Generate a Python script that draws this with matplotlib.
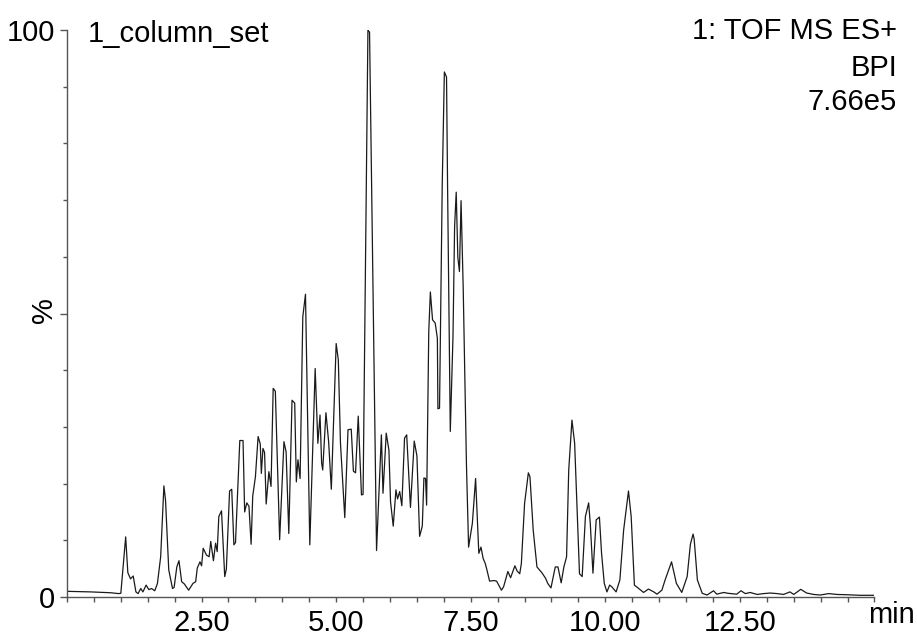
"""
Base peak intensity chromatogram (TOF MS ES+, BPI) for 1_column_set.
"""

import matplotlib

matplotlib.use("Agg")

import matplotlib.pyplot as plt
from matplotlib.ticker import FixedLocator, MultipleLocator, NullFormatter

# ---------------------------------------------------------------------------
# Data: retention time (min) vs. relative intensity (%)
# ---------------------------------------------------------------------------

# 0 - 2.5 min
time_early = [0.00, 0.44, 0.81, 0.96, 1.00, 1.09, 1.13, 1.18, 1.23, 1.28,
              1.32, 1.37, 1.41, 1.47, 1.52, 1.57, 1.63, 1.68, 1.74, 1.80,
              1.83, 1.89, 1.96, 1.99, 2.04, 2.08, 2.13, 2.18, 2.26, 2.34,
              2.39, 2.42, 2.47]
pct_early = [1.0, 0.9, 0.75, 0.6, 0.65, 10.6, 4.3, 3.2, 3.7, 0.9,
             0.6, 1.5, 0.9, 2.1, 1.3, 1.5, 1.1, 2.4, 7.1, 19.6,
             17.1, 4.8, 1.5, 1.7, 5.3, 6.4, 2.7, 2.3, 1.2, 2.4,
             2.7, 5.1, 6.2]

# 2.5 - 5.1 min
time_mid = [2.50, 2.53, 2.59, 2.64, 2.67, 2.72, 2.76, 2.79, 2.82, 2.87,
            2.93, 2.96, 3.02, 3.06, 3.10, 3.13, 3.21, 3.27, 3.30, 3.34,
            3.38, 3.42, 3.45, 3.50, 3.55, 3.59, 3.61, 3.64, 3.67, 3.70,
            3.75, 3.79, 3.83, 3.87, 3.95, 4.03, 4.07, 4.12, 4.18, 4.23,
            4.26, 4.29, 4.33, 4.38, 4.43, 4.51, 4.61, 4.66, 4.70, 4.73,
            4.75, 4.81, 4.86, 4.91, 5.00, 5.04, 5.08]
pct_mid = [5.5, 8.6, 7.4, 7.1, 9.8, 6.4, 9.5, 8.0, 14.2, 15.2,
           3.6, 4.9, 18.7, 19.0, 9.2, 9.6, 27.6, 27.6, 15.0, 16.6,
           16.0, 9.3, 17.8, 21.2, 28.3, 27.0, 21.8, 26.2, 25.5, 16.4,
           22.1, 19.5, 36.8, 36.3, 10.1, 27.4, 25.6, 11.2, 34.7, 34.2,
           20.3, 24.2, 20.9, 49.4, 53.4, 9.2, 40.3, 27.1, 32.1, 23.6,
           22.4, 32.5, 27.4, 19.0, 44.7, 41.8, 27.1]

# 5.1 - 7.5 min
time_main = [5.16, 5.22, 5.28, 5.32, 5.36, 5.41, 5.47, 5.50, 5.59, 5.62,
             5.75, 5.84, 5.87, 5.93, 5.98, 6.01, 6.06, 6.11, 6.14, 6.18,
             6.22, 6.27, 6.31, 6.38, 6.45, 6.50, 6.55, 6.60, 6.63, 6.66,
             6.68, 6.72, 6.75, 6.79, 6.84, 6.88, 6.89, 6.92, 6.97, 7.01,
             7.05, 7.07, 7.12, 7.17, 7.20, 7.23, 7.26, 7.29, 7.32, 7.36,
             7.42, 7.46]
pct_main = [14.0, 29.5, 29.6, 22.2, 21.9, 31.9, 18.0, 18.1, 100.0, 99.6,
            8.2, 28.6, 18.3, 28.9, 25.9, 16.8, 12.5, 18.9, 17.3, 18.6,
            16.1, 28.0, 28.6, 15.8, 27.5, 24.9, 10.7, 12.5, 21.0, 20.9,
            16.2, 46.8, 53.8, 48.9, 48.3, 45.6, 33.2, 33.3, 72.6, 92.6,
            91.7, 72.0, 29.2, 45.9, 65.3, 71.4, 59.9, 57.4, 69.9, 54.4,
            23.4, 8.8]

# 7.5 - 15 min
time_late = [7.53, 7.59, 7.65, 7.69, 7.73, 7.77, 7.80, 7.85, 7.93, 7.98,
             8.02, 8.07, 8.11, 8.19, 8.24, 8.32, 8.36, 8.41, 8.44, 8.50,
             8.57, 8.60, 8.66, 8.73, 8.82, 8.89, 8.93, 8.99, 9.07, 9.12,
             9.18, 9.23, 9.28, 9.32, 9.38, 9.43, 9.52, 9.57, 9.63, 9.69,
             9.72, 9.77, 9.83, 9.89, 9.93, 9.98, 10.03, 10.08, 10.12, 10.20,
             10.27, 10.34, 10.43, 10.48, 10.54, 10.62, 10.71, 10.80, 10.90, 10.96,
             11.05, 11.11, 11.23, 11.32, 11.42, 11.52, 11.58, 11.63, 11.65, 11.71,
             11.80, 11.89, 12.01, 12.07, 12.20, 12.28, 12.44, 12.52, 12.60, 12.69,
             12.82, 12.94, 13.06, 13.19, 13.31, 13.43, 13.50, 13.63, 13.74, 13.87,
             13.99, 14.15, 14.30, 14.49, 14.73, 15.00]
pct_late = [13.0, 20.9, 7.7, 8.8, 6.8, 5.9, 4.8, 2.8, 2.9, 2.8,
            2.1, 1.2, 1.8, 4.5, 3.4, 5.5, 4.6, 4.1, 5.9, 16.5,
            21.9, 21.2, 11.8, 5.3, 4.3, 3.3, 2.4, 1.6, 5.3, 5.3,
            2.5, 5.3, 7.1, 22.4, 31.2, 27.1, 4.1, 3.6, 14.2, 16.6,
            13.0, 4.2, 13.6, 14.1, 7.7, 2.4, 0.9, 2.1, 1.8, 0.9,
            3.0, 11.8, 18.7, 14.2, 2.1, 1.5, 0.8, 1.4, 0.9, 0.5,
            1.2, 3.0, 6.2, 2.4, 0.8, 3.6, 9.3, 11.1, 10.2, 3.0,
            0.65, 0.35, 1.1, 0.5, 0.8, 0.65, 0.5, 1.1, 0.6, 0.8,
            0.45, 0.6, 0.7, 0.6, 0.45, 0.9, 0.45, 1.35, 0.7, 0.45,
            0.35, 0.6, 0.45, 0.4, 0.3, 0.3]

x_major = [2.5, 5.0, 7.5, 10.0, 12.5]
x_labels = ["2.50", "5.00", "7.50", "10.00", "12.50"]
y_major = [0, 50, 100]
y_labels = ["0", "", "100"]

title_left = "1_column_set"
title_right = ["1: TOF MS ES+", "BPI", "7.66e5"]

# Consistent aesthetics
FONT = ["Liberation Sans", "DejaVu Sans"]
FONT_SIZE = 21
W, H = 917, 639

plt.rcParams["font.family"] = FONT

time_min = time_early + time_mid + time_main + time_late
pct = pct_early + pct_mid + pct_main + pct_late
assert len(time_min) == len(pct)

fig = plt.figure(figsize=(W / 100, H / 100), dpi=100)
ax = fig.add_axes([67 / W, 42 / H, 807.5 / W, 567 / H])

ax.plot(time_min, pct, color="#1a1a1a", linewidth=0.9)

ax.set_xlim(0, 15.0)
ax.set_ylim(0, 100)

for side in ("top", "right"):
    ax.spines[side].set_visible(False)
for side in ("left", "bottom"):
    ax.spines[side].set_color("#555555")
    ax.spines[side].set_linewidth(1.0)

# --- x axis: labelled every 2.5 min, small ticks every 0.5 min ---
ax.xaxis.set_major_locator(FixedLocator(x_major))
ax.set_xticklabels(x_labels)
ax.xaxis.set_minor_locator(MultipleLocator(0.5))
ax.xaxis.set_minor_formatter(NullFormatter())
ax.tick_params(axis="x", which="both", direction="out", length=3.8,
               width=1.0, color="#555555", pad=4.5, labelsize=FONT_SIZE)

# --- y axis: 0 / 50 / 100 with minor ticks every 10 % ---
ax.yaxis.set_major_locator(FixedLocator(y_major))
ax.set_yticklabels(y_labels)
ax.yaxis.set_minor_locator(MultipleLocator(10))
ax.tick_params(axis="y", which="major", direction="out", length=5.0,
               width=1.0, color="#555555", pad=3.5, labelsize=FONT_SIZE)
ax.tick_params(axis="y", which="minor", direction="out", length=3.0,
               width=1.0, color="#555555")

fig.text(44 / W, 1 - 310 / H, "%", rotation=90, ha="center", va="center",
         fontsize=FONT_SIZE)
fig.text(868 / W, 1 - 623 / H, "min", ha="left", va="baseline",
         fontsize=FONT_SIZE)

fig.text(88 / W, 1 - 42 / H, title_left, ha="left", va="baseline",
         fontsize=FONT_SIZE)
for line, base in zip(title_right, (39, 76, 110)):
    fig.text(897 / W, 1 - base / H, line, ha="right", va="baseline",
             fontsize=FONT_SIZE)

fig.savefig("out.png", dpi=100)
plt.close(fig)
